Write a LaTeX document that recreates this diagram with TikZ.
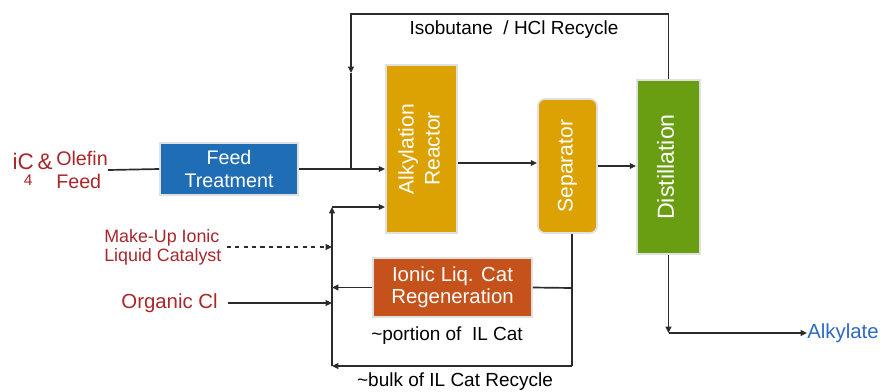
\documentclass[tikz,border=0pt]{standalone}
\usepackage{fontspec}
\setmainfont{Liberation Sans}
\usepackage{graphicx}
\usetikzlibrary{arrows.meta}

\definecolor{ftblue}{HTML}{1F6DB5}
\definecolor{argold}{HTML}{DCA204}
\definecolor{digreen}{HTML}{6A9E12}
\definecolor{rgorange}{HTML}{C5521A}
\definecolor{lblred}{HTML}{A8262C}
\definecolor{lblblue}{HTML}{2F6AC2}
\definecolor{pipegray}{HTML}{2B2B2B}

\newcommand{\vtext}[1]{\rotatebox{90}{\begin{tabular}{@{}c@{}}#1\end{tabular}}}

\tikzset{
    unit/.style={rectangle, draw=black!12, line width=1.2pt, text=white, inner sep=0pt,
        align=center, font=\fontsize{14}{16}\selectfont},
    flow/.style={draw=pipegray, line width=1.2pt, -{Triangle[length=4.5pt,width=4pt]}},
    pipe/.style={draw=pipegray, line width=1.2pt},
    redlbl/.style={text=lblred, inner sep=0pt, font=\fontsize{14}{16.5}\selectfont},
    blklbl/.style={text=black, inner sep=0pt, font=\fontsize{13.5}{16}\selectfont},
}

\begin{document}
\begin{tikzpicture}[x=0.025cm, y=-0.025cm]
    \useasboundingbox (0,0) rectangle (883,391);

    % process units
    \node[unit, fill=ftblue, minimum width=3.45cm, minimum height=1.3cm] (FT) at (229,169) {Feed\\Treatment};
    \node[unit, fill=argold, minimum width=1.775cm, minimum height=4.2cm, font=\fontsize{15}{18.5}\selectfont] (AR) at (421.5,149) {\vtext{Alkylation\\Reactor}};
    \node[unit, fill=argold, rounded corners=5pt, minimum width=1.475cm, minimum height=3.35cm, font=\fontsize{15}{18}\selectfont] (SEP) at (567.5,166) {\vtext{Separator}};
    \node[unit, fill=digreen, minimum width=1.575cm, minimum height=4.35cm, font=\fontsize{16.5}{19}\selectfont] (DIST) at (668.5,167) {\vtext{Distillation}};
    \node[unit, fill=rgorange, minimum width=3.975cm, minimum height=1.475cm, font=\fontsize{14.5}{15.5}\selectfont] (REG) at (452.5,287.5) {Ionic Liq. Cat\\Regeneration};

    % streams in and out
    \node[redlbl, anchor=east, font=\fontsize{16}{18}\selectfont] (iC) at (53,169) {iC\llap{\raisebox{-1.35ex}{\fontsize{11}{12}\selectfont 4}\hspace{1pt}}\,\&};
    \node[redlbl, anchor=west, align=left] (FEED) at (56,170) {Olefin\\Feed};
    \node[redlbl, anchor=west, align=left, font=\fontsize{12.7}{13.6}\selectfont] (MKP) at (104,247) {Make-Up Ionic\\Liquid Catalyst};
    \node[redlbl, anchor=east, font=\fontsize{14.5}{16}\selectfont] (OCL) at (218,303) {Organic Cl};
    \node[text=lblblue, anchor=west, inner sep=0pt, font=\fontsize{14.5}{16}\selectfont] (ALK) at (807,333) {Alkylate};

    \node[blklbl] (RCY) at (514,30) {Isobutane \ / HCl Recycle};
    \node[blklbl] (POR) at (447,336) {\textasciitilde portion of \ IL Cat};
    \node[blklbl] (BLK) at (455,382) {\textasciitilde bulk of IL Cat Recycle};

    % pipe corners
    \coordinate (jf) at (351,169);
    \coordinate (rtop) at (351,14);
    \coordinate (rmid) at (351,73);
    \coordinate (rs) at (500,163);
    \coordinate (ct) at (332,207);
    \coordinate (cb) at (332,366);
    \coordinate (sb) at (572,366);
    \coordinate (sj) at (572,288);
    \coordinate (ab) at (668.5,333);

    \draw[pipe] (FEED.east) -- (FT.west);
    \draw[flow] (FT.east) -- (FT.east -| AR.west);

    \draw[flow] (DIST.north) |- (rtop) -- (rmid);
    \draw[pipe] (rmid) -- (jf);

    \draw[flow] (AR.east |- rs) -- (SEP.west |- rs);
    \draw[flow] (SEP.east) -- (SEP.east -| DIST.west);

    \draw[flow] (DIST.south) -- (ab);
    \draw[flow] (ab) -- (ALK.west);

    \draw[pipe] (sb |- SEP.south) -- (sb);
    \draw[flow] (sb) -- (cb);
    \draw[flow] (cb) -- (ct);
    \draw[flow] (ct) -- (ct -| AR.west);

    \draw[pipe] (sj) -- (REG.east);
    \draw[flow] (REG.west) -- (REG.west -| ct);

    \draw[flow, dashed] (MKP.east) ++(5,0) -- (MKP.east -| ct);
    \draw[flow] (OCL.east) ++(10,0) -- (OCL.east -| ct);

\end{tikzpicture}
\end{document}
